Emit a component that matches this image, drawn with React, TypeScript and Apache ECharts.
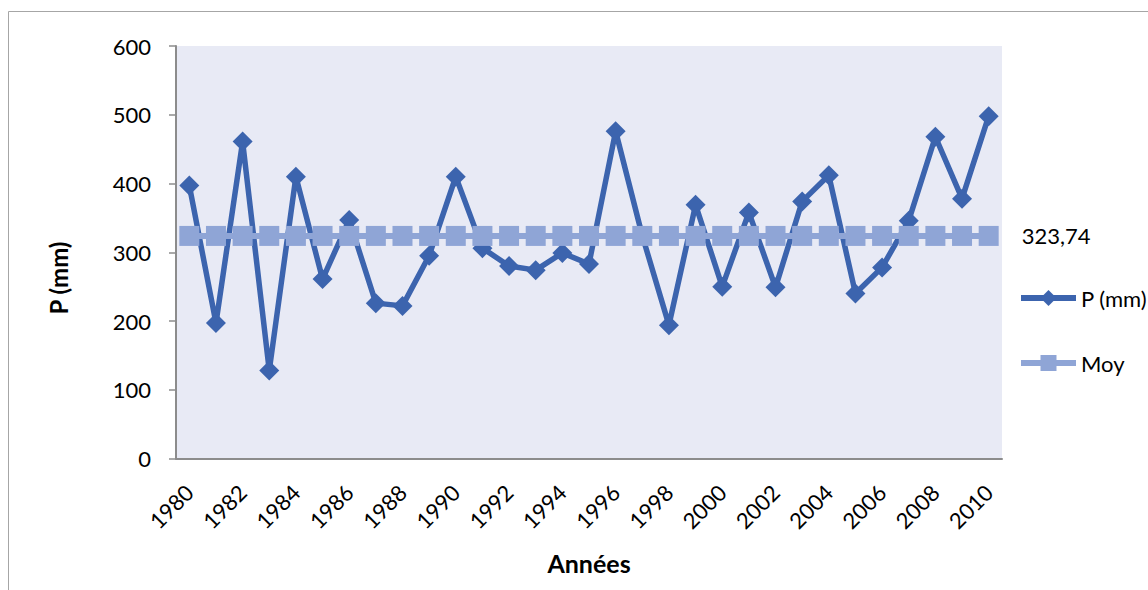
import React, { useEffect, useRef } from "react";
import * as echarts from "echarts";

// Annual precipitation series, 1980–2010
const years = [
  "1980", "1981", "1982", "1983", "1984", "1985", "1986", "1987", "1988", "1989",
  "1990", "1991", "1992", "1993", "1994", "1995", "1996", "1997", "1998", "1999",
  "2000", "2001", "2002", "2003", "2004", "2005", "2006", "2007", "2008", "2009",
  "2010",
];

const precipitation = [
  397, 197, 461, 128, 410, 261, 347, 226, 222, 295,
  410, 306, 280, 274, 299, 283, 476, 324, 194, 369,
  250, 358, 249, 374, 412, 240, 278, 346, 468, 378,
  498,
];

// Inter-annual mean (mm)
const MEAN = 323.74;
const meanSeries = years.map(() => MEAN);

const yTicks = { min: 0, max: 600, interval: 100 };

const FONT = 'Lato, "Noto Sans", sans-serif';
const P_COLOR = "#3C64AE";
const MOY_COLOR = "#8FA5D6";
const AXIS_COLOR = "#8C8C8C";

export default function App() {
  const ref = useRef<HTMLDivElement>(null);

  useEffect(() => {
    if (!ref.current) return;
    const chart = echarts.init(ref.current, undefined, { renderer: "svg" });
    const lastIndex = years.length - 1;

    chart.setOption({
      animation: false,
      backgroundColor: "#ffffff",
      textStyle: { fontFamily: FONT, color: "#000" },
      grid: { left: 176, top: 46, right: 146, bottom: 131.5, show: true, backgroundColor: "#E8EAF5", borderWidth: 0 },
      graphic: [
        {
          type: "rect",
          shape: { x: 8.5, y: 11.5, width: 1300, height: 700 },
          style: { fill: "none", stroke: "#A6A6A6", lineWidth: 1 },
          silent: true,
          z: -10,
        },
        {
          type: "text",
          x: 58,
          y: 278,
          rotation: Math.PI / 2,
          style: {
            text: "P (mm)",
            font: `bold 24px ${FONT}`,
            fill: "#000",
            align: "center",
            verticalAlign: "middle",
          },
        },
      ],
      legend: {
        orient: "vertical",
        left: 1013,
        top: 282,
        padding: 5,
        itemWidth: 55,
        itemHeight: 20,
        itemGap: 43,
        lineStyle: { width: 6 },
        textStyle: { fontSize: 22, color: "#000", fontFamily: FONT },
        data: ["P (mm)", "Moy"],
      },
      xAxis: {
        type: "category",
        data: years,
        boundaryGap: true,
        name: "Années",
        nameLocation: "middle",
        nameGap: 92,
        nameTextStyle: { fontSize: 25, fontWeight: "bold", color: "#000", fontFamily: FONT },
        axisLine: { lineStyle: { color: AXIS_COLOR, width: 2 } },
        axisTick: { show: false },
        axisLabel: { interval: 1, rotate: 45, fontSize: 22, color: "#000", margin: 30, fontFamily: FONT },
        splitLine: { show: false },
      },
      yAxis: {
        type: "value",
        min: yTicks.min,
        max: yTicks.max,
        interval: yTicks.interval,
        axisLine: { show: true, lineStyle: { color: AXIS_COLOR, width: 2 } },
        axisTick: { show: true, length: 7, lineStyle: { color: AXIS_COLOR, width: 1.5 } },
        axisLabel: { fontSize: 22, color: "#000", margin: 25, fontFamily: FONT },
        splitLine: { show: false },
      },
      series: [
        {
          name: "P (mm)",
          type: "line",
          data: precipitation,
          symbol: "diamond",
          symbolSize: 20,
          showAllSymbol: true,
          color: P_COLOR,
          lineStyle: { color: P_COLOR, width: 5.5 },
          itemStyle: { color: P_COLOR },
          z: 2,
        },
        {
          name: "Moy",
          type: "line",
          data: meanSeries.map((v, i) =>
            i === lastIndex
              ? {
                  value: v,
                  label: {
                    show: true,
                    position: "right",
                    distance: 23,
                    formatter: (p: any) => String(p.value.toFixed(2)).replace(".", ","),
                    fontSize: 22,
                    color: "#000",
                    fontFamily: FONT,
                  },
                }
              : v
          ),
          symbol: "rect",
          symbolSize: 20,
          showAllSymbol: true,
          color: MOY_COLOR,
          lineStyle: { color: MOY_COLOR, width: 6 },
          itemStyle: { color: MOY_COLOR },
          z: 3,
        },
      ],
    });

    return () => chart.dispose();
  }, []);

  return (
    <div
      ref={ref}
      style={{ position: "absolute", left: 0, top: 0, width: 1148, height: 590 }}
    />
  );
}
